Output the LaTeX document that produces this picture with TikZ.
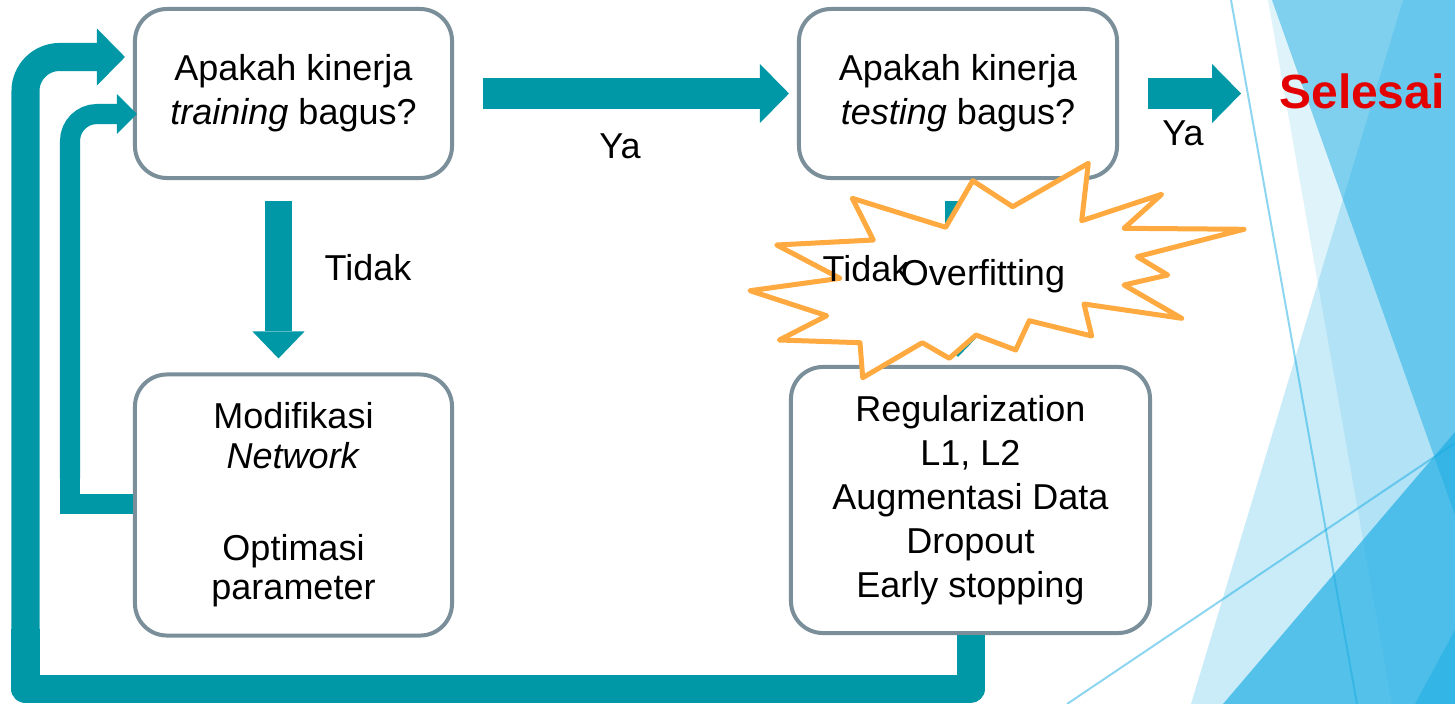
\documentclass[tikz,border=0pt]{standalone}
\usepackage{fontspec}
\setmainfont{Liberation Sans}
\usepackage{tikz}
\usetikzlibrary{arrows.meta,calc}

\definecolor{flowteal}{RGB}{0,151,167}
\definecolor{boxgray}{RGB}{122,143,154}
\definecolor{burstorange}{RGB}{255,170,64}
\definecolor{facetblue}{RGB}{28,173,228}
\definecolor{donered}{RGB}{226,0,0}

\begin{document}
\begin{tikzpicture}[x=0.025cm,y=-0.025cm,
  txt/.style={font=\fontsize{25.6}{31.3}\selectfont},
  box/.style={txt,draw=boxgray,line width=0.1cm,fill=white,rounded corners=0.8cm,
    align=center,inner sep=0pt},
  flow/.style={draw=flowteal,line width=0.75cm,
    -{Triangle[length=0.725cm,width=1.475cm,line width=0pt]}},
  drop/.style={draw=flowteal,line width=0.675cm,
    -{Triangle[length=0.675cm,width=1.3cm,line width=0pt]}},
  loopin/.style={draw=flowteal,line width=0.5cm},
  loopout/.style={draw=flowteal,line width=0.7cm},
  burst/.style={draw=burstorange,fill=white,line width=0.125cm,line join=round}]
  \useasboundingbox (0,0) rectangle (1455,704);
  \fill[white] (0,0) rectangle (1455,704);
  % ---------------- background facets ----------------
  \fill[facetblue,fill opacity=0.137] (1268,0) -- (1455,0) -- (1455,704) -- (1392,704) -- cycle;
  \fill[facetblue,fill opacity=0.49] (1272,0) -- (1455,0) -- (1455,515) -- cycle;
  \fill[facetblue,fill opacity=0.23] (1403,0) -- (1455,0) -- (1455,704) -- (1191,704) -- cycle;
  \fill[facetblue,fill opacity=0.675] (1223,704) -- (1455,432) -- (1455,704) -- cycle;
  \fill[facetblue,fill opacity=0.5] (1415,704) -- (1455,630) -- (1455,704) -- cycle;
  \draw[facetblue,draw opacity=0.5,line width=0.05cm] (1231,0) -- (1357,704);
  \draw[facetblue,draw opacity=0.5,line width=0.05cm] (1067,704) -- (1455,443);
  % ---------------- boxes ----------------
  \node[box,minimum width=7.925cm,minimum height=4.225cm] (train) at (293.5,93.5)
    {Apakah kinerja\\\textit{training} bagus?};
  \node[box,minimum width=7.95cm,minimum height=4.225cm] (test) at (958,93.5)
    {Apakah kinerja\\\textit{testing} bagus?};
  \node[box,minimum width=7.925cm,minimum height=6.525cm,
    font=\fontsize{25.6}{28.2}\selectfont] (mod) at (293.5,505)
    {Modifikasi\\\textit{Network}\\[37pt]Optimasi\\parameter};
  \node[box,minimum width=8.975cm,minimum height=6.65cm] (reg) at (970.5,500)
    {Regularization\\L1, L2\\Augmentasi Data\\Dropout\\Early stopping};
  \node[font=\fontsize{34.1}{40}\selectfont\bfseries,text=donered,inner sep=0pt]
    (done) at (1362,91) {Selesai};
  % ---------------- flow ----------------
  \draw[flow] ($(train.east)+(29,0)$) -- ($(test.west)+(-8,0)$);
  \draw[flow] ($(test.east)+(29,0)$) -- ($(test.east -| done.west)+(-38,0)$);
  \draw[drop] ($(train.south)+(-15,21)$) -- ($(train.south |- mod.north)+(-15,-14)$);
  \draw[drop] ($(test.south)+(0,21)$) -- ($(test.south |- reg.north)+(0,-8)$);
  \node[txt] (ya1) at (620,146) {Ya};
  \node[txt] (ya2) at (1183,133) {Ya};
  \node[txt] (no1) at (368,268) {Tidak};
  % back to the training check
  \coordinate (inBL) at (70,503.5);
  \coordinate (outBL) at (25.5,689);
  \draw[loopin] (mod.west |- inBL) -| ($(inBL)+(0,-40)$);
  \draw[loopin,rounded corners=0.675cm,
    -{Triangle[length=0.5cm,width=1cm,line width=0pt]}]
    ($(inBL)+(0,-25)$) |- ($(train.west)+(4,20.5)$);
  \draw[loopout,line join=round] (reg.south) |- (outBL) -- ++(0,-60);
  \draw[loopout,rounded corners=0.85cm,
    -{Triangle[length=0.7cm,width=1.425cm,line width=0pt]}]
    ($(outBL)+(0,-45)$) |- ($(train.west)+(-8,-36.5)$);
  % ---------------- overfitting burst ----------------
  \draw[burst] (972.7,180.7) -- (1012.7,206.7) -- (1088.3,163.3) -- (1081.7,220.7)
    -- (1161.7,194.3) -- (1124,228.3) -- (1244,229.3) -- (1137.3,256.7)
    -- (1167.7,275) -- (1124,285) -- (1181.7,318.3) -- (1084,304)
    -- (1091.7,336) -- (1029.3,320.7) -- (1015.7,350) -- (976,335)
    -- (949.3,358.3) -- (922.3,342.7) -- (862.7,377.7) -- (860,342.7)
    -- (779.3,340) -- (826.7,315.7) -- (750,290.7) -- (840,278.3)
    -- (776.7,245) -- (873.3,240) -- (852.3,198.3) -- (945.7,227.3) -- cycle;
  \node[txt] (no2) at (866,269) {Tidak};
  \node[txt] (over) at (983,276) {Overfitting};
\end{tikzpicture}
\end{document}
